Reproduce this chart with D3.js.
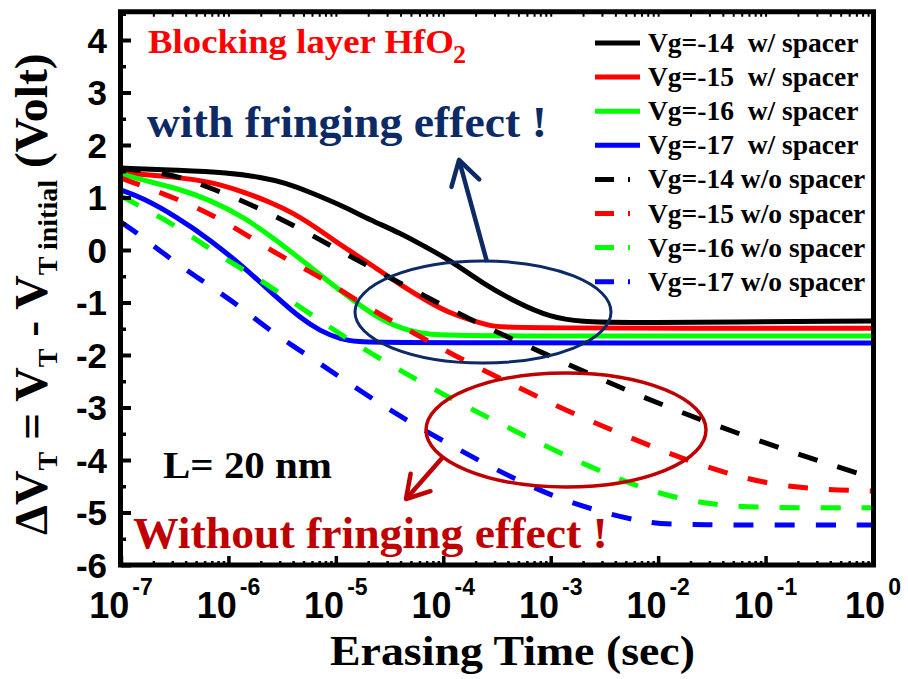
<!DOCTYPE html>
<html>
<head>
<meta charset="utf-8">
<script src="https://cdn.jsdelivr.net/npm/d3@7"></script>
<style>
  body { margin: 0; background: #fff; }
  svg { display: block; }
  .serif { font-family: "Liberation Serif", "Times New Roman", serif; font-weight: bold; }
  .sans { font-family: "Liberation Sans", Arial, sans-serif; font-weight: bold; }
</style>
</head>
<body>
<svg id="chart" width="908" height="679"></svg>
<script>
// ---- erase transients: threshold shift (V) vs erasing time (s) ----
// with spacer (solid)
const tW14 = [1e-7, 3.5e-7, 1e-6, 1.95e-6, 3.4e-6, 5.75e-6, 1.1e-5, 2.1e-5, 4e-5, 6.8e-5, 1.15e-4, 2.3e-4, 4.9e-4, 9.8e-4, 2e-3, 4.4e-3, 1];
const vW14 = [1.56, 1.52, 1.47, 1.39, 1.28, 1.10, 0.86, 0.57, 0.32, 0.06, -0.19, -0.63, -1.01, -1.28, -1.37, -1.39, -1.35];
const tW15 = [1e-7, 3.3e-7, 6.8e-7, 1.38e-6, 2.45e-6, 4e-6, 7.1e-6, 1.17e-5, 2.1e-5, 4e-5, 7.6e-5, 1.15e-4, 1.78e-4, 2.7e-4, 4.2e-4, 1];
const vW15 = [1.47, 1.39, 1.30, 1.11, 0.91, 0.71, 0.38, 0.06, -0.27, -0.67, -1.01, -1.20, -1.33, -1.45, -1.49, -1.49];
const tW16 = [1e-7, 1.6e-7, 3.3e-7, 6.8e-7, 1.38e-6, 2.8e-6, 5.75e-6, 1.17e-5, 1.86e-5, 2.9e-5, 4.4e-5, 7.6e-5, 1.45e-4, 1];
const vW16 = [1.45, 1.33, 1.18, 0.95, 0.63, 0.19, -0.32, -0.82, -1.12, -1.37, -1.52, -1.62, -1.64, -1.64];
const tW17 = [1e-7, 1.6e-7, 3.3e-7, 6.8e-7, 1.38e-6, 2.8e-6, 4.7e-6, 7.1e-6, 1.1e-5, 1.66e-5, 2.57e-5, 1];
const vW17 = [1.14, 0.99, 0.63, 0.19, -0.32, -0.90, -1.30, -1.54, -1.70, -1.75, -1.77, -1.77];
// without spacer (dashed)
const tWo14 = [1e-7, 2.5e-7, 4.5e-7, 1.7e-6, 4.9e-6, 1.3e-5, 3.2e-5, 8.9e-5, 2.6e-4, 8.5e-4, 3.3e-3, 1.35e-2, 7.1e-2, 0.46, 1];
const vWo14 = [1.55, 1.47, 1.33, 0.86, 0.38, -0.10, -0.53, -1.01, -1.49, -1.96, -2.51, -3.03, -3.58, -4.13, -4.34];
const tWo15 = [1e-7, 4.8e-7, 1.26e-6, 3.1e-6, 7.2e-6, 1.8e-5, 4.7e-5, 1.23e-4, 3.9e-4, 1.35e-3, 5.5e-3, 2.6e-2, 0.11, 0.39, 1];
const vWo15 = [1.37, 0.86, 0.38, -0.13, -0.51, -1.05, -1.52, -2.00, -2.51, -3.05, -3.58, -4.13, -4.48, -4.57, -4.59];
const tWo16 = [1e-7, 1.55e-7, 3.8e-7, 8.1e-7, 1.86e-6, 4.1e-6, 9.5e-6, 2e-5, 6.3e-5, 1.9e-4, 6.2e-4, 2.3e-3, 8.9e-3, 3.2e-2, 8.7e-2, 1];
const vWo16 = [1.03, 0.82, 0.38, -0.10, -0.53, -1.01, -1.52, -1.94, -2.53, -3.05, -3.58, -4.13, -4.63, -4.86, -4.91, -4.91];
const tWo17 = [1e-7, 1.38e-7, 2.6e-7, 5.5e-7, 1.17e-6, 2.5e-6, 5.8e-6, 1.3e-5, 3.4e-5, 1e-4, 3.1e-4, 1.05e-3, 2.9e-3, 7.8e-3, 1.6e-2, 1];
const vWo17 = [0.53, 0.34, -0.10, -0.57, -1.01, -1.56, -2.04, -2.53, -3.09, -3.64, -4.19, -4.70, -4.99, -5.20, -5.24, -5.24];

const seriesLabels = ["Vg=-14  w/ spacer", "Vg=-15  w/ spacer", "Vg=-16  w/ spacer", "Vg=-17  w/ spacer",
                      "Vg=-14 w/o spacer", "Vg=-15 w/o spacer", "Vg=-16 w/o spacer", "Vg=-17 w/o spacer"];
const seriesColors = ["#000000", "#ff0000", "#00ff00", "#0000ff", "#000000", "#ff0000", "#00ff00", "#0000ff"];
const seriesTimes = [tW14, tW15, tW16, tW17, tWo14, tWo15, tWo16, tWo17];
const seriesValues = [vW14, vW15, vW16, vW17, vWo14, vWo15, vWo16, vWo17];

const xDecades = [-7, -6, -5, -4, -3, -2, -1, 0];
const yTicks = [-6, -5, -4, -3, -2, -1, 0, 1, 2, 3, 4];

// ---- layout ----
const svg = d3.select("#chart");
const pL = 121, pR = 873, pT = 13.75, pB = 565;
const x = d3.scaleLog().domain([1e-7, 1]).range([pL, pR]);
const y = d3.scaleLinear().domain([-6, 4.5]).range([pB, pT]);

const series = seriesLabels.map((label, i) => ({
  label,
  color: seriesColors[i],
  dashed: i >= 4,
  points: seriesTimes[i].map((t, j) => ({ t, v: seriesValues[i][j] }))
}));

svg.append("defs").append("clipPath").attr("id", "plotClip")
  .append("rect").attr("x", pL).attr("y", pT).attr("width", pR - pL).attr("height", pB - pT);

// ---- curves ----
const line = d3.line().x(d => x(d.t)).y(d => y(d.v)).curve(d3.curveBasis);
const curves = svg.append("g").attr("clip-path", "url(#plotClip)");
// solid first, dashed on top
curves.selectAll("path").data(series).join("path")
  .attr("d", d => line(d.points))
  .attr("fill", "none")
  .attr("stroke", d => d.color)
  .attr("stroke-width", 5)
  .attr("stroke-dasharray", d => d.dashed ? "20,21" : null);

// ---- axes ----
function styleAxis(g) {
  g.select(".domain").remove();
  g.selectAll(".tick line").attr("stroke", "#000");
  g.selectAll(".tick text").remove();
}
const minorX = [];
for (let e = -7; e < 0; e++) for (let k = 2; k <= 9; k++) minorX.push(k * Math.pow(10, e));
const majorX = xDecades.map(e => Math.pow(10, e));

svg.append("g").attr("transform", `translate(0,${pB})`)
  .call(d3.axisBottom(x).tickValues(minorX).tickSize(-4)).call(styleAxis)
  .selectAll(".tick line").attr("stroke-width", 2.5);
svg.append("g").attr("transform", `translate(0,${pB})`)
  .call(d3.axisBottom(x).tickValues(majorX).tickSize(-9)).call(styleAxis)
  .selectAll(".tick line").attr("stroke-width", 3.5);
svg.append("g").attr("transform", `translate(0,${pT})`)
  .call(d3.axisTop(x).tickValues(minorX.concat(majorX)).tickSize(-3)).call(styleAxis)
  .selectAll(".tick line").attr("stroke-width", 2);

const minorY = d3.range(-5.5, 4.6, 1);
svg.append("g").attr("transform", `translate(${pL},0)`)
  .call(d3.axisLeft(y).tickValues(minorY).tickSize(-5)).call(styleAxis)
  .selectAll(".tick line").attr("stroke-width", 3.5);
svg.append("g").attr("transform", `translate(${pL},0)`)
  .call(d3.axisLeft(y).tickValues(yTicks).tickSize(-10)).call(styleAxis)
  .selectAll(".tick line").attr("stroke-width", 4);

// frame
svg.append("rect").attr("x", pL - 0.5).attr("y", pT - 2).attr("width", pR - pL + 1).attr("height", pB - pT + 2)
  .attr("fill", "none").attr("stroke", "#000").attr("stroke-width", 5);

// tick labels
const xl = svg.append("g").attr("class", "sans").attr("fill", "#000");
xDecades.forEach(e => {
  const t = xl.append("text").attr("x", x(Math.pow(10, e))).attr("y", 618).attr("text-anchor", "middle");
  t.append("tspan").attr("font-size", 36).text("10");
  t.append("tspan").attr("font-size", 23).attr("dx", 3).attr("dy", -23).text(e);
});
svg.append("g").attr("class", "sans").selectAll("text").data(yTicks).join("text")
  .attr("x", 107).attr("y", d => y(d) + 12.5).attr("text-anchor", "end")
  .attr("font-size", 35).text(d => d);

// ---- text helpers ----
function fitText(sel, width) {
  const w = sel.node().getComputedTextLength();
  const tx = +sel.attr("x"), ty = +sel.attr("y");
  sel.attr("x", 0).attr("y", 0).attr("transform", `translate(${tx},${ty}) scale(${width / w},1)`);
  return sel;
}
function label(txt, xPos, yPos, size, color, width) {
  const t = svg.append("text").attr("class", "serif").attr("x", xPos).attr("y", yPos)
    .attr("font-size", size).attr("fill", color).text(txt);
  if (width) fitText(t, width);
  return t;
}

// axis titles
label("Erasing Time (sec)", 330, 665, 42, "#000", 365);

const yTitleG = svg.append("g").attr("transform", "translate(47,535) rotate(-90)");
const yt = yTitleG.append("text").attr("class", "serif").attr("x", 0).attr("y", 0).attr("fill", "#000")
  .style("white-space", "pre");
const mainSize = 46, subSize = 27, shift = 10;
[["\u0394V", 0], ["T", 1], [" = V", 0], ["T", 1], [" - V", 0], ["T initial", 1], [" (Volt)", 0]].forEach(([s, isSub], i, arr) => {
  const prevSub = i > 0 ? arr[i - 1][1] : 0;
  yt.append("tspan").attr("font-size", isSub ? subSize : mainSize)
    .attr("dy", isSub && !prevSub ? shift : (!isSub && prevSub ? -shift : 0))
    .text(s);
});
fitText(yt, 482);

// ---- annotations ----
label("Blocking layer HfO", 148, 53, 33, "#ff0000", 306);
svg.append("text").attr("class", "serif").attr("x", 453).attr("y", 63).attr("font-size", 26).attr("fill", "#ff0000").text("2");

const navy = "#0c2a66", darkRed = "#c00000";
label("with fringing effect !", 147, 137, 45, navy, 400);
label("L= 20 nm", 163, 478, 38, "#000", 169);
label("Without fringing effect !", 133, 548, 45, darkRed, 475);

svg.append("ellipse").attr("cx", 483).attr("cy", 312).attr("rx", 128).attr("ry", 51)
  .attr("fill", "none").attr("stroke", navy).attr("stroke-width", 3);
svg.append("ellipse").attr("cx", 566).attr("cy", 430).attr("rx", 140).attr("ry", 57)
  .attr("fill", "none").attr("stroke", darkRed).attr("stroke-width", 3.5);

function arrow(x0, y0, x1, y1, color, w, head) {
  const dx = x1 - x0, dy = y1 - y0, L = Math.hypot(dx, dy);
  const ux = dx / L, uy = dy / L;
  const bx = x1 - ux * head, by = y1 - uy * head;
  const px = -uy * head * 0.6, py = ux * head * 0.6;
  svg.append("line").attr("x1", x0).attr("y1", y0).attr("x2", x1 - ux * 2).attr("y2", y1 - uy * 2)
    .attr("stroke", color).attr("stroke-width", w);
  svg.append("path").attr("d", `M${bx + px},${by + py}L${x1},${y1}L${bx - px},${by - py}`)
    .attr("fill", "none").attr("stroke", color).attr("stroke-width", w)
    .attr("stroke-linecap", "round").attr("stroke-linejoin", "round");
}
arrow(487, 262, 459, 160, navy, 4.5, 24);
arrow(443, 457, 406, 499, darkRed, 4.5, 22);

// ---- legend ----
const lg = svg.append("g");
series.forEach((s, i) => {
  const ly = 43 + i * 34.1;
  lg.append("line").attr("x1", 595).attr("x2", s.dashed ? 630 : 640).attr("y1", ly).attr("y2", ly)
    .attr("stroke", s.color).attr("stroke-width", 5)
    .attr("stroke-dasharray", s.dashed ? "19,14" : null);
  lg.append("text").attr("class", "serif").attr("x", 648).attr("y", ly + 9)
    .attr("font-size", 27.5).attr("fill", "#000")
    .style("white-space", "pre").text(s.label);
});
</script>
</body>
</html>
